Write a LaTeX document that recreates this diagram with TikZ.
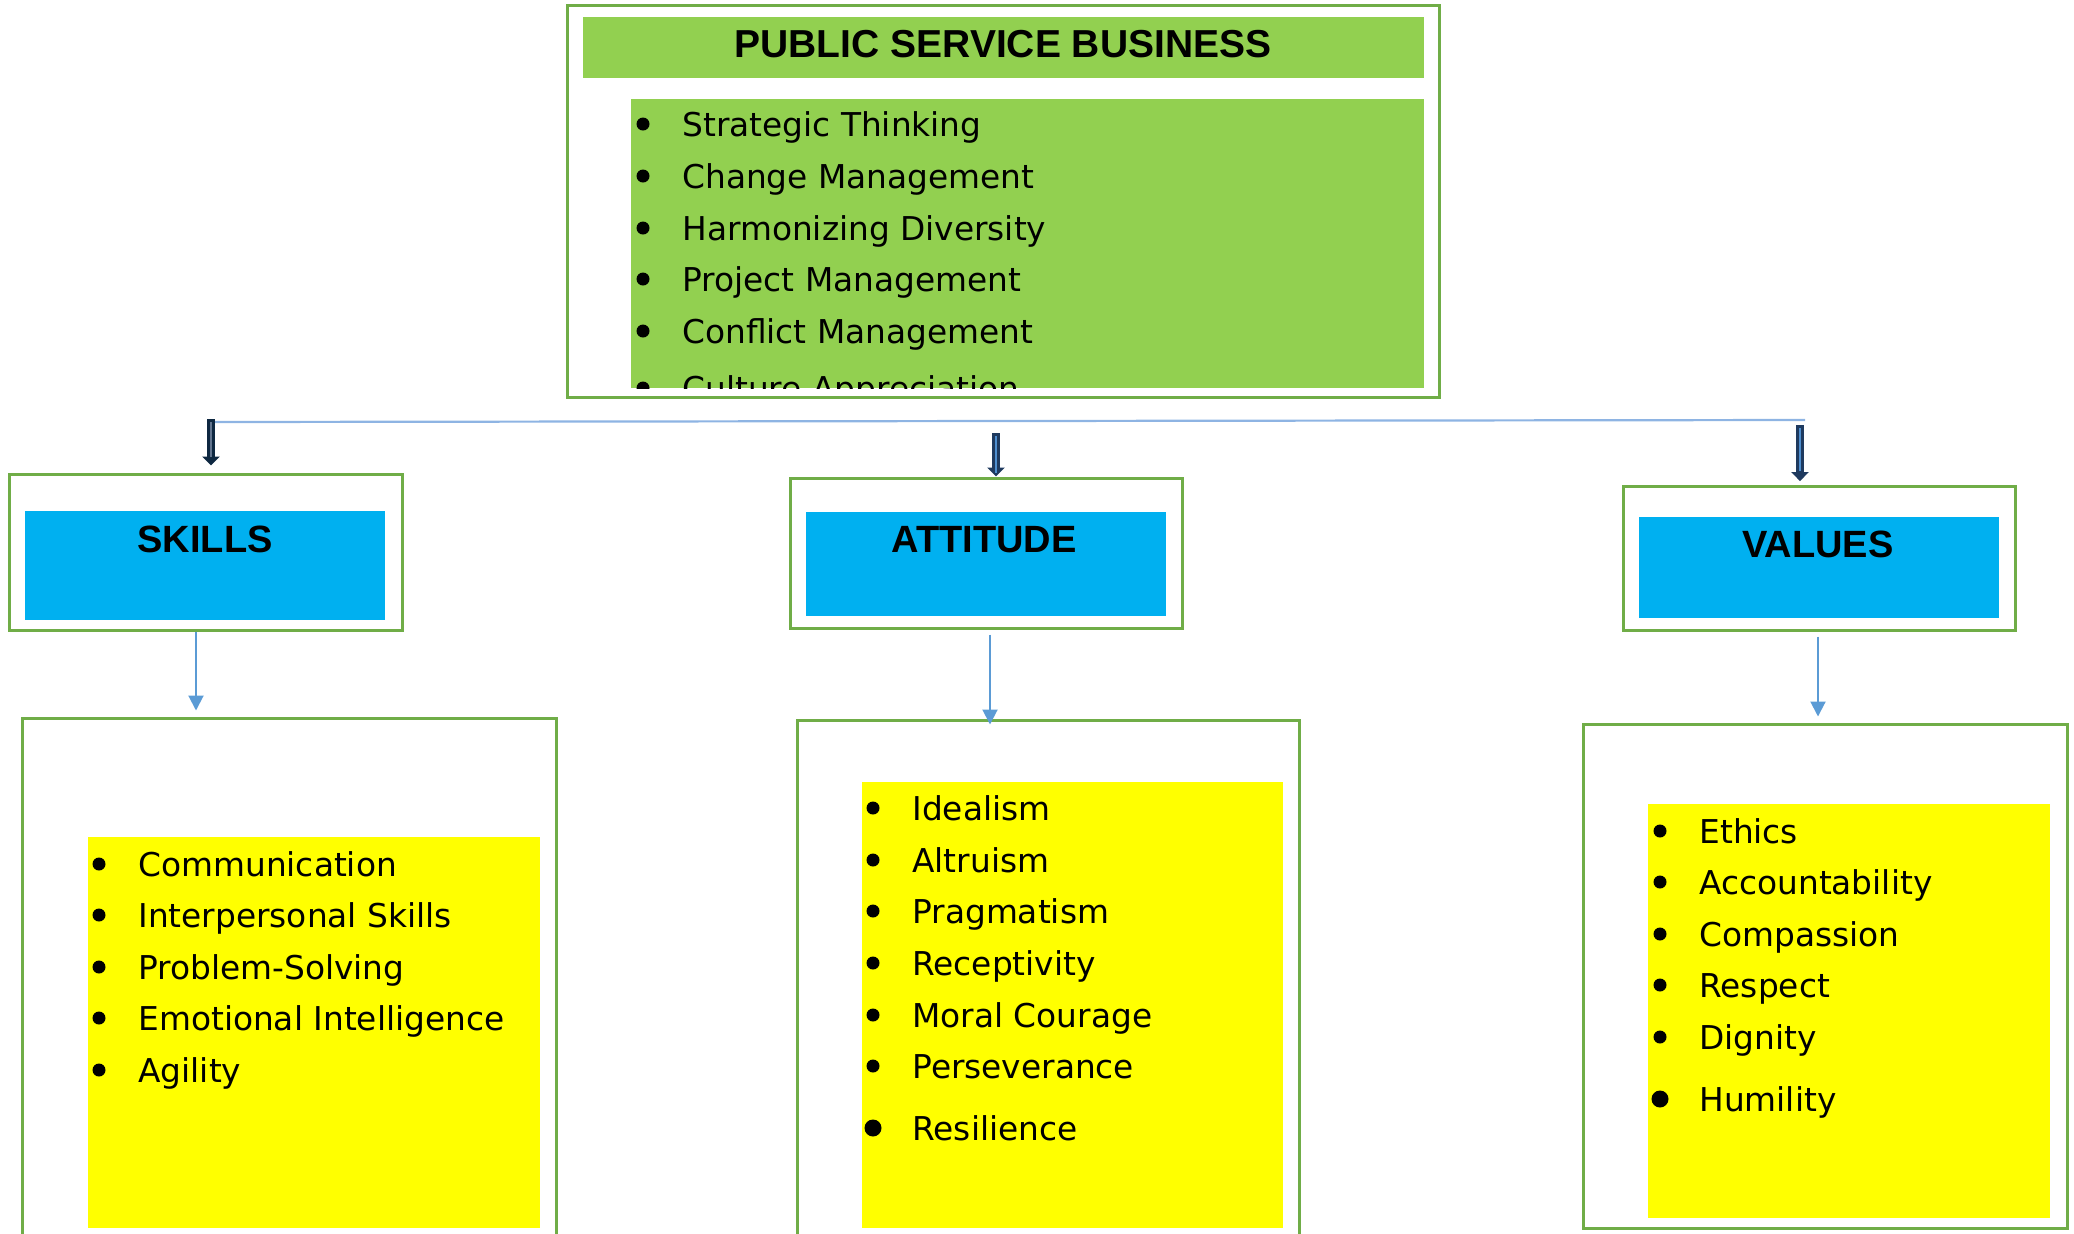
\documentclass[tikz,border=0pt]{standalone}
\usepackage{fontspec}
\setmainfont{DejaVu Sans}
\newfontfamily\headfont{Liberation Sans}
\usetikzlibrary{arrows.meta,fit}

\definecolor{boxgreen}{HTML}{70AD47}
\definecolor{fillgreen}{HTML}{92D050}
\definecolor{headblue}{HTML}{00B0F0}
\definecolor{listyellow}{HTML}{FFFF00}
\definecolor{linkblue}{HTML}{5B9BD5}
\definecolor{barblue}{HTML}{8EB4E3}
\definecolor{navy}{HTML}{1F3A5F}
\definecolor{navydark}{HTML}{0E2841}
\definecolor{shaftblue}{HTML}{4F8FD0}

% one list entry: name, text x, cap-centre y, bullet size, text
\newcommand\listentry[5]{%
  \node[dot, minimum size=#4] (#1-dot) at ({#2-41},#3) {};
  \node[entry] (#1) at ({#2-2},{#3+12}) {#5};}

\begin{document}
\begin{tikzpicture}[x=0.5pt,y=-0.5pt,
  frame/.style={draw=boxgreen, line width=1.5pt, inner sep=0pt},
  panel/.style={fill=#1, inner sep=0pt},
  dot/.style={circle, fill=black, inner sep=0pt},
  entry/.style={anchor=base west, inner sep=0pt, font=\fontsize{16.4pt}{19pt}\selectfont},
  heading/.style={anchor=base, inner sep=0pt, font=\headfont\bfseries\fontsize{19pt}{22pt}\selectfont},
  barline/.style={draw=barblue, line width=1.1pt},
  blockarrow/.style={draw=#1, line width=3.6pt, -{Triangle[width=8.5pt,length=4.5pt]}},
  shaft/.style={draw=shaftblue, line width=1.2pt},
  link/.style={draw=linkblue, line width=1pt, -{Triangle[width=7.5pt,length=7.5pt]}}]

\useasboundingbox (0,0) rectangle (2074,1233);

% ---- top panel ----
\node[frame, fit={(567,5) (1439,397)}] (top) {};
\node[panel=fillgreen, fit={(583,17) (1424,78)}] (titlebar) {};
\node[panel=fillgreen, fit={(631,99) (1424,388)}] (toplist) {};
\node[anchor=base, inner sep=0pt, font=\headfont\bfseries\fontsize{19.5pt}{22pt}\selectfont]
  (title) at (1003,57) {PUBLIC SERVICE BUSINESS};

\listentry{t1}{684}{124}{6.5pt}{Strategic Thinking}
\listentry{t2}{684}{176}{6.5pt}{Change Management}
\listentry{t3}{684}{228}{6.5pt}{Harmonizing Diversity}
\listentry{t4}{684}{279}{6.5pt}{Project Management}
\listentry{t5}{684}{331}{6.5pt}{Conflict Management}
\begin{scope}
  \clip (toplist.north west) rectangle (toplist.south east);
  \listentry{t6}{684}{388}{6.5pt}{Culture Appreciation}
\end{scope}

% ---- category headers ----
\node[frame, fit={(9,474) (402,630)}] (skills) {};
\node[panel=headblue, fit={(25,511) (385,620)}] (skillsbar) {};
\node[heading] (skillst) at (205,552) {SKILLS};

\node[frame, fit={(790,478) (1182,628)}] (attitude) {};
\node[panel=headblue, fit={(806,512) (1166,616)}] (attitudebar) {};
\node[heading] (attitudet) at (984,552) {ATTITUDE};

\node[frame, fit={(1623,486) (2015,630)}] (values) {};
\node[panel=headblue, fit={(1639,517) (1999,618)}] (valuesbar) {};
\node[heading] (valuest) at (1818,557) {VALUES};

% ---- distribution bar and block arrows ----
\coordinate (jL) at (213,422);
\coordinate (jR) at (1805,420);
\draw[barline] (jL) -- (jR);

\coordinate (aL) at (211,419);
\coordinate (aM) at (996,433);
\coordinate (aR) at (1800,425);
\draw[blockarrow=navydark, shorten >=3.5pt] (aL) -- (aL |- skills.north);
\draw[blockarrow=navy] (aM) -- (aM |- attitude.north);
\draw[blockarrow=navy, shorten >=1.7pt] (aR) -- (aR |- values.north);
\draw[shaft] ([yshift=-1.5pt]aM) -- ([yshift=-20pt]aM);
\draw[shaft] ([yshift=-1.5pt]aR) -- ([yshift=-23pt]aR);
\draw[draw=navy!70, line width=0.6pt] ([yshift=-1.5pt]aL) -- ([yshift=-19pt]aL);

% ---- list boxes ----
\node[frame, fit={(22,718) (556,1260)}] (skillsbox) {};
\node[panel=listyellow, fit={(88,837) (540,1228)}] (skillslist) {};
\node[frame, fit={(797,720) (1299,1260)}] (attitudebox) {};
\node[panel=listyellow, fit={(862,782) (1283,1228)}] (attitudelist) {};
\node[frame, fit={(1583,724) (2067,1228)}] (valuesbox) {};
\node[panel=listyellow, fit={(1648,804) (2050,1218)}] (valueslist) {};

\coordinate (cS) at (196,0);
\coordinate (cA) at (990,0);
\coordinate (cV) at (1818,0);
\draw[link] (cS |- skills.south) -- ([yshift=3pt]cS |- skillsbox.north);
\draw[link, shorten <=2.5pt] (cA |- attitude.south) -- ([yshift=-3pt]cA |- attitudebox.north);
\draw[link, shorten <=2.5pt] (cV |- values.south) -- ([yshift=3pt]cV |- valuesbox.north);

% ---- list contents ----
\listentry{s1}{140}{864}{6.5pt}{Communication}
\listentry{s2}{140}{915}{6.5pt}{Interpersonal Skills}
\listentry{s3}{140}{967}{6.5pt}{Problem-Solving}
\listentry{s4}{140}{1018}{6.5pt}{Emotional Intelligence}
\listentry{s5}{140}{1070}{6.5pt}{Agility}

\listentry{a1}{914}{808}{6.5pt}{Idealism}
\listentry{a2}{914}{860}{6.5pt}{Altruism}
\listentry{a3}{914}{911}{6.5pt}{Pragmatism}
\listentry{a4}{914}{963}{6.5pt}{Receptivity}
\listentry{a5}{914}{1015}{6.5pt}{Moral Courage}
\listentry{a6}{914}{1066}{6.5pt}{Perseverance}
\listentry{a7}{914}{1128}{8.5pt}{Resilience}

\listentry{v1}{1701}{831}{6.5pt}{Ethics}
\listentry{v2}{1701}{882}{6.5pt}{Accountability}
\listentry{v3}{1701}{934}{6.5pt}{Compassion}
\listentry{v4}{1701}{985}{6.5pt}{Respect}
\listentry{v5}{1701}{1037}{6.5pt}{Dignity}
\listentry{v6}{1701}{1099}{8.5pt}{Humility}
\end{tikzpicture}
\end{document}
